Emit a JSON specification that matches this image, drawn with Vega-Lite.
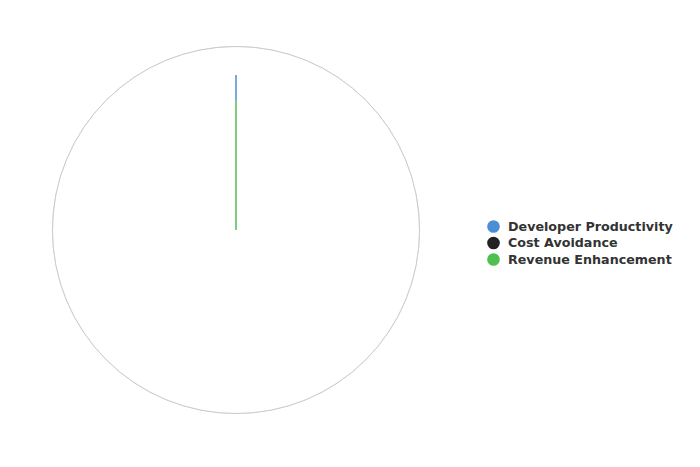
{
  "$schema": "https://vega.github.io/schema/vega-lite/v6.json",
  "autosize": {"type": "none"},
  "width": 472,
  "height": 460,
  "padding": {"left": 0, "top": 0, "right": 228, "bottom": 7},
  "background": "white",
  "view": {"stroke": null},
  "data": {
    "values": [
      {"category": "Developer Productivity", "from": 70.7, "to": 84.2},
      {"category": "Revenue Enhancement", "from": 0, "to": 70.7}
    ]
  },
  "layer": [
    {
      "mark": {"type": "arc", "theta": 0, "theta2": 6.2832, "radius": 183.5, "fill": "white", "stroke": "#cccccc", "strokeWidth": 1},
      "encoding": {}
    },
    {
      "mark": {"type": "arc", "theta": 0, "theta2": 0, "strokeWidth": 1.5},
      "encoding": {
        "radius": {"field": "to", "type": "quantitative", "scale": {"type": "linear", "domain": [0, 100], "range": [0, 184]}},
        "radius2": {"field": "from"},
        "fill": {
          "field": "category", "type": "nominal",
          "scale": {"domain": ["Developer Productivity", "Cost Avoidance", "Revenue Enhancement"], "range": ["#4a8fd6", "#222222", "#4fc04f"]},
          "legend": {
            "title": null, "orient": "none", "legendX": 487, "legendY": 220,
            "symbolType": "circle", "symbolSize": 160, "symbolStrokeWidth": 0,
            "labelFont": "DejaVu Sans", "labelFontWeight": "bold", "labelFontSize": 12.7, "labelColor": "#333333",
            "labelLimit": 300, "rowPadding": 2.5, "labelOffset": 8
          }
        },
        "stroke": {
          "field": "category", "type": "nominal",
          "scale": {"domain": ["Developer Productivity", "Cost Avoidance", "Revenue Enhancement"], "range": ["#4a8fd6", "#222222", "#4fc04f"]},
          "legend": null
        }
      }
    }
  ]
}
